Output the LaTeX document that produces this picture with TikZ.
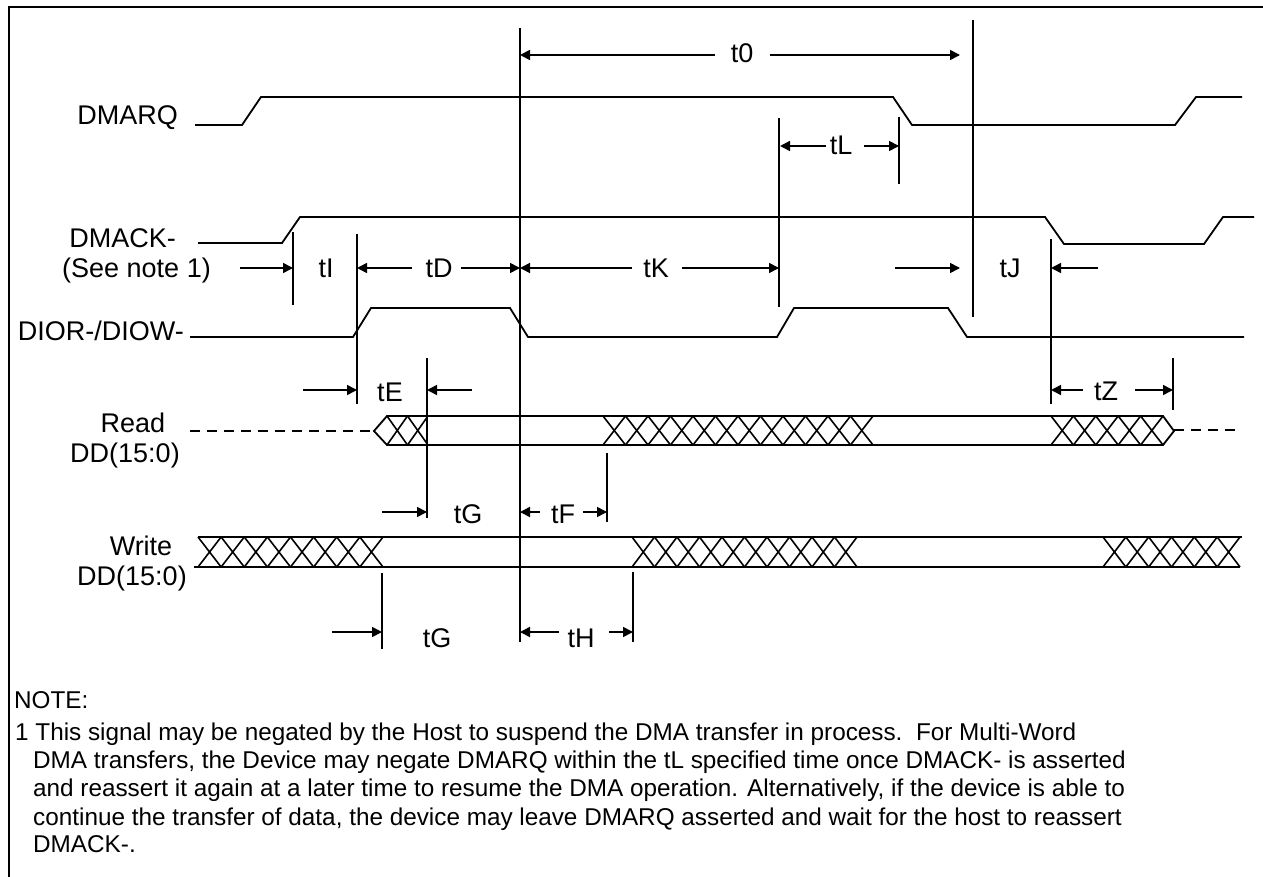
\documentclass[tikz,border=0pt]{standalone}
\usepackage{fontspec}
\setmainfont{Liberation Sans}
\usetikzlibrary{arrows.meta}
\begin{document}
\begin{tikzpicture}[x=1pt,y=-1pt,
  sig/.style={line width=1.8pt, line join=miter},
  hatch/.style={line width=1.6pt},
  marker/.style={line width=1.8pt},
  dimline/.style={line width=1.6pt, -{Triangle[length=10pt,width=10pt]}},
  dashline/.style={line width=1.6pt, dash pattern=on 10pt off 7pt},
  lbl/.style={inner sep=0pt, anchor=base east, font=\fontsize{27}{31}\selectfont},
  clbl/.style={inner sep=0pt, anchor=base, font=\fontsize{27}{31}\selectfont},
  tlbl/.style={inner sep=0pt, anchor=base, font=\fontsize{27}{31}\selectfont},
  notetext/.style={inner sep=0pt, anchor=base west, font=\fontsize{24.3}{28}\selectfont},
]
\useasboundingbox (0,0) rectangle (1263,877);
\fill[white] (0,0) rectangle (1263,877);
% frame
\draw[line width=2pt] (9,877) -- (9,7) -- (1263,7);

% signal labels
\node[lbl] (lDMARQ) at (178,125) {DMARQ};
\node[lbl] (lDMACK) at (176,248) {DMACK-};
\node[lbl] (lSee) at (211,277) {(See note 1)};
\node[lbl] (lDIOR) at (184,340) {DIOR-/DIOW-};
\node[clbl] (lRead) at (133,432) {Read};
\node[clbl] (lRDD) at (125,462) {DD(15:0)};
\node[clbl] (lWrite) at (141,555) {Write};
\node[clbl] (lWDD) at (132,585) {DD(15:0)};

% waveforms
\draw[sig] (195,125) -- (242,125) -- (261,97) -- (893,97) -- (912,125) -- (1175,125) -- (1196,97) -- (1242,97);
\draw[sig] (198,243) -- (282,243) -- (300,217) -- (1045,217) -- (1064,244) -- (1204,244) -- (1223,217) -- (1254,217);
\draw[sig] (190,337) -- (353,337) -- (371,308) -- (510,308) -- (528,337) -- (777,337) -- (794,308) -- (948,308) -- (967,337) -- (1244,337);

% read bus
\draw[dashline] (190,431) -- (374,431);
\draw[sig] (374,431) -- (387,416) -- (1163,416) -- (1174,431) -- (1163,445) -- (387,445) -- cycle;
\draw[dashline] (1174,430) -- (1240,430);
% write bus
\draw[sig] (198,537) -- (1242,537);
\draw[sig] (194,567) -- (1240,567);

% hatching
\foreach \xa/\xb/\n/\yt/\yb in {387/428/2/416/445, 603/873/12/416/445, 1051/1163/5/416/445,
                                 198/383/8/537/567, 632/857/10/537/567, 1103/1240/6/537/567} {
  \pgfmathsetmacro\w{(\xb-\xa)/\n}
  \foreach \i in {1,...,\n} {
    \draw[hatch] ({\xa+(\i-1)*\w},\yt) -- ({\xa+\i*\w},\yb)
                 ({\xa+(\i-1)*\w},\yb) -- ({\xa+\i*\w},\yt);
  }
}

% timing markers
\draw[marker] (520,28) -- (520,642);
\draw[marker] (973,20) -- (973,317);
\draw[marker] (779,118) -- (779,307);
\draw[marker] (899,117) -- (899,184);
\draw[marker] (293,232) -- (293,305);
\draw[marker] (357,234) -- (357,404);
\draw[marker] (427,358) -- (427,518);
\draw[marker] (607,453) -- (607,522);
\draw[marker] (382,573) -- (382,649);
\draw[marker] (633,572) -- (633,642);
\draw[marker] (1051,239) -- (1051,404);
\draw[marker] (1173,358) -- (1173,410);

% t0
\node[tlbl] (t0) at (742,63) {t0};
\draw[dimline] (715,55) -- (520,55);
\draw[dimline] (770,55) -- (960,55);
% tL
\node[tlbl] (tL) at (841,155) {tL};
\draw[dimline] (826,146) -- (780,146);
\draw[dimline] (864,146) -- (899,146);
% tI
\node[tlbl] (tI) at (326,278) {tI};
\draw[dimline] (240,268) -- (293,268);
% tD
\node[tlbl] (tD) at (439,278) {tD};
\draw[dimline] (412,268) -- (357,268);
\draw[dimline] (461,268) -- (520,268);
% tK
\node[tlbl] (tK) at (656,278) {tK};
\draw[dimline] (632,268) -- (520,268);
\draw[dimline] (682,268) -- (779,268);
% tJ
\node[tlbl] (tJ) at (1010,278) {tJ};
\draw[dimline] (895,268) -- (960,268);
\draw[dimline] (1098,268) -- (1051,268);
% tE
\node[tlbl] (tE) at (390,401) {tE};
\draw[dimline] (303,390) -- (357,390);
\draw[dimline] (472,390) -- (427,390);
% tZ
\node[tlbl] (tZ) at (1106,400) {tZ};
\draw[dimline] (1083,390) -- (1051,390);
\draw[dimline] (1135,390) -- (1173,390);
% tG read
\node[tlbl] (tGr) at (468,523) {tG};
\draw[dimline] (382,512) -- (427,512);
% tF
\node[tlbl] (tF) at (563,523) {tF};
\draw[dimline] (540,512) -- (520,512);
\draw[dimline] (583,512) -- (607,512);
% tG write
\node[tlbl] (tGw) at (437,647) {tG};
\draw[dimline] (332,632) -- (382,632);
% tH
\node[tlbl] (tH) at (581,647) {tH};
\draw[dimline] (559,632) -- (520,632);
\draw[dimline] (609,632) -- (633,632);

% note
\node[notetext] (n0) at (14,708) {NOTE:};
\node[notetext] (n1) at (15,740) {1 This signal may be negated by the Host to suspend the DMA transfer in process.\ \ For Multi-Word};
\node[notetext] (n2) at (33,768) {DMA transfers, the Device may negate DMARQ within the tL specified time once DMACK- is asserted};
\node[notetext] (n3) at (33,796) {and reassert it again at a later time to resume the DMA operation. Alternatively, if the device is able to};
\node[notetext] (n4) at (33,825) {continue the transfer of data, the device may leave DMARQ asserted and wait for the host to reassert};
\node[notetext] (n5) at (33,852) {DMACK-.};
\end{tikzpicture}
\end{document}
